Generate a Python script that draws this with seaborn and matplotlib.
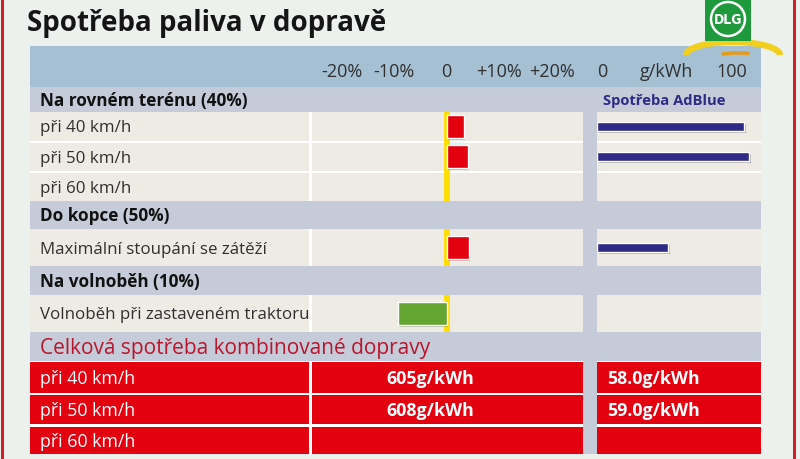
import numpy as np
import pandas as pd
import matplotlib
matplotlib.use("Agg")
import matplotlib.pyplot as plt
import matplotlib.patches as mpatches
import matplotlib.patheffects as pe
from matplotlib import font_manager as fm
from matplotlib.transforms import blended_transform_factory
import seaborn as sns

# ---------------- data ----------------
title = "Spotřeba paliva v dopravě"
section_flat = "Na rovném terénu (40%)"
section_hill = "Do kopce (50%)"
section_idle = "Na volnoběh (10%)"
section_total = "Celková spotřeba kombinované dopravy"
adblue_title = "Spotřeba AdBlue"

flat_labels = ["při 40 km/h", "při 50 km/h", "při 60 km/h"]
flat_fuel_change = [3.2, 4.0, np.nan]      # % vs. reference
flat_adblue = [114, 118, np.nan]           # g/kWh scale

hill_labels = ["Maximální stoupání se zátěží"]
hill_fuel_change = [4.2]
hill_adblue = [55]

idle_labels = ["Volnoběh při zastaveném traktoru"]
idle_fuel_change = [-9.3]
idle_adblue = [np.nan]

fuel_ticks = [-20, -10, 0, 10, 20]
fuel_tick_labels = ["-20%", "-10%", "0", "+10%", "+20%"]
adblue_ticks = [0, 50, 100]
adblue_tick_labels = ["0", "g/kWh", "100"]

total_labels = ["při 40 km/h", "při 50 km/h", "při 60 km/h"]
total_fuel = ["605g/kWh", "608g/kWh", ""]
total_adblue = ["58.0g/kWh", "59.0g/kWh", ""]

# ---------------- style ----------------
sns.set_theme(style="white")
names = {f.name for f in fm.fontManager.ttflist}
MAIN = "Open Sans" if "Open Sans" in names else "DejaVu Sans"
COND = "Liberation Sans Narrow" if "Liberation Sans Narrow" in names else MAIN
plt.rcParams["font.family"] = [MAIN, "DejaVu Sans"]

BG = "#EDF1EE"
HEADER = "#A5BFD3"
SECTION = "#C5CBD9"
CELL = "#EEEBE5"
RED = "#E3000F"
DARKRED = "#B8162C"
YELLOW = "#FFDD00"
NAVY = "#2E2A85"
GREEN = "#65A532"

W, H = 800, 460
fig = plt.figure(figsize=(8, 4.6), dpi=100, facecolor=BG)
bg = fig.add_axes([0, 0, 1, 1])
bg.set_xlim(0, W)
bg.set_ylim(H, 0)
bg.axis("off")


def rect(x0, y0, x1, y1, color, z=1):
    bg.add_patch(mpatches.Rectangle((x0, y0), x1 - x0, y1 - y0, facecolor=color,
                                    edgecolor="none", zorder=z))


def ax_at(x0, y0, x1, y1):
    a = fig.add_axes([x0 / W, 1 - y1 / H, (x1 - x0) / W, (y1 - y0) / H])
    a.set_facecolor("none")
    return a


# borders
rect(1, 0, 3.5, H, "#D0202E", 5)
rect(793, 0, 796, H, "#D0202E", 5)

# title
bg.text(27, 23, title, fontsize=20, fontweight="bold", color="#151515",
        va="center", ha="left", family=[MAIN, "DejaVu Sans"])

# header band and table background
rect(30, 47, 761, 88, HEADER)
rect(30, 88, 761, 455, SECTION)

# data cells
X_LBL = (30, 309)
X_CH = (311.5, 583)
X_AD = (597, 761)
flat_rows = [(113, 142), (143.5, 172), (173.5, 202)]
hill_rows = [(230, 267)]
idle_rows = [(296, 333)]
for block in (flat_rows, hill_rows, idle_rows):
    y0, y1 = block[0][0], block[-1][1]
    rect(30, y0, 583, y1, "white")
    rect(597, y0, 761, y1, "white")
    for r0, r1 in block:
        for xa, xb in (X_LBL, X_CH, X_AD):
            rect(xa, r0, xb, r1, CELL, 2)

# section headers
for txt, yc in ((section_flat, 101), (section_hill, 216), (section_idle, 282)):
    bg.text(40, yc, txt, fontsize=12.3, fontweight="bold", color="#111111", va="center")
bg.text(603, 101, adblue_title, fontsize=10.6, fontweight="bold", color=NAVY,
        va="center", family=[COND, "DejaVu Sans"])

# row labels
for labels, rows in ((flat_labels, flat_rows), (hill_labels, hill_rows), (idle_labels, idle_rows)):
    for lab, (r0, r1) in zip(labels, rows):
        bg.text(40, (r0 + r1) / 2 + 1, lab, fontsize=12.2, color="#303030", va="center")

# ---------------- bar charts ----------------
FUEL_LIM = (-25.7, 25.9)
AD_LIM = (0, 127)
shadow = [pe.SimplePatchShadow(offset=(1.2, -1.2), alpha=0.25), pe.Normal()]


def fuel_block(labels, values, rows, width):
    a = ax_at(X_CH[0], rows[0][0], X_CH[1], rows[-1][1])
    df = pd.DataFrame({"label": labels, "value": values})
    df["sign"] = np.where(df["value"] < 0, "neg", "pos")
    sns.barplot(data=df, x="value", y="label", hue="sign", order=labels,
                palette={"pos": RED, "neg": GREEN}, saturation=1, orient="h",
                width=width, errorbar=None, legend=False, ax=a, zorder=3)
    for p in a.patches:
        p.set_path_effects(shadow)
    a.axvline(0, color=YELLOW, lw=4.2, zorder=2)
    a.set_xlim(*FUEL_LIM)
    a.set_ylim(len(labels) - 0.5, -0.5)
    a.axis("off")
    return a


def adblue_block(labels, values, rows, width):
    a = ax_at(X_AD[0], rows[0][0], X_AD[1], rows[-1][1])
    df = pd.DataFrame({"label": labels, "value": values})
    sns.barplot(data=df, x="value", y="label", order=labels, color=NAVY,
                saturation=1, orient="h", width=width, errorbar=None, ax=a)
    for p in a.patches:
        p.set_path_effects(shadow)
    a.set_xlim(*AD_LIM)
    a.set_ylim(len(labels) - 0.5, -0.5)
    a.axis("off")
    return a


ax_f1 = fuel_block(flat_labels, flat_fuel_change, flat_rows, 0.78)
fuel_block(hill_labels, hill_fuel_change, hill_rows, 0.62)
fuel_block(idle_labels, idle_fuel_change, idle_rows, 0.62)
ax_a1 = adblue_block(flat_labels, flat_adblue, flat_rows, 0.30)
adblue_block(hill_labels, hill_adblue, hill_rows, 0.24)
adblue_block(idle_labels, idle_adblue, idle_rows, 0.24)

# header tick labels tied to the axes scales
ty = 1 - 72 / H
tr_f = blended_transform_factory(ax_f1.transData, fig.transFigure)
for v, s in zip(fuel_ticks, fuel_tick_labels):
    fig.text(v, ty, s, transform=tr_f, ha="center", va="center", fontsize=13, color="#303030")
tr_a = blended_transform_factory(ax_a1.transData, fig.transFigure)
for v, s in zip(adblue_ticks, adblue_tick_labels):
    fig.text(v + 4, ty, s, transform=tr_a, ha="center", va="center", fontsize=13, color="#303030")

# ---------------- total consumption ----------------
bg.text(40, 349, section_total, fontsize=15, color=DARKRED, va="center",
        family=[COND, "DejaVu Sans"])
red_rows = [(363, 393.5), (396, 425), (427.5, 455)]
rect(30, 362, 583, 455, "white")
rect(597, 362, 761, 455, "white")
for lab, fv, av, (r0, r1) in zip(total_labels, total_fuel, total_adblue, red_rows):
    rect(30, r0, 309, r1, RED, 2)
    rect(311.5, r0, 583, r1, RED, 2)
    rect(597, r0, 761, r1, RED, 2)
    yc = (r0 + r1) / 2 + 1
    bg.text(40, yc, lab, fontsize=12.8, color="white", va="center", zorder=3,
            family=[COND, "DejaVu Sans"])
    bg.text(430, yc, fv, fontsize=12.8, color="white", fontweight="bold", va="center",
            ha="center", zorder=3, family=[COND, "DejaVu Sans"])
    bg.text(607, yc, av, fontsize=12.8, color="white", fontweight="bold", va="center",
            ha="left", zorder=3, family=[COND, "DejaVu Sans"])

# ---------------- DLG logo ----------------
bg.add_patch(mpatches.Arc((733, 56), 94, 26, theta1=180, theta2=360, color="#F2CF1E",
                          lw=4.5, zorder=6))
bg.add_patch(mpatches.Arc((738, 61), 60, 14, theta1=200, theta2=330, color="#E39B1E",
                          lw=2.5, zorder=6))
rect(705, -2, 751, 42, "#1E9A3C", 7)
bg.add_patch(mpatches.Ellipse((728, 20), 34, 34, facecolor="none", edgecolor="white",
                              lw=1.8, zorder=8))
bg.text(728, 20.5, "DLG", fontsize=10, fontweight="bold", color="white", ha="center",
        va="center", zorder=9, family=["DejaVu Sans"], fontstretch="condensed")

fig.savefig("out.png", dpi=100, facecolor=BG)
